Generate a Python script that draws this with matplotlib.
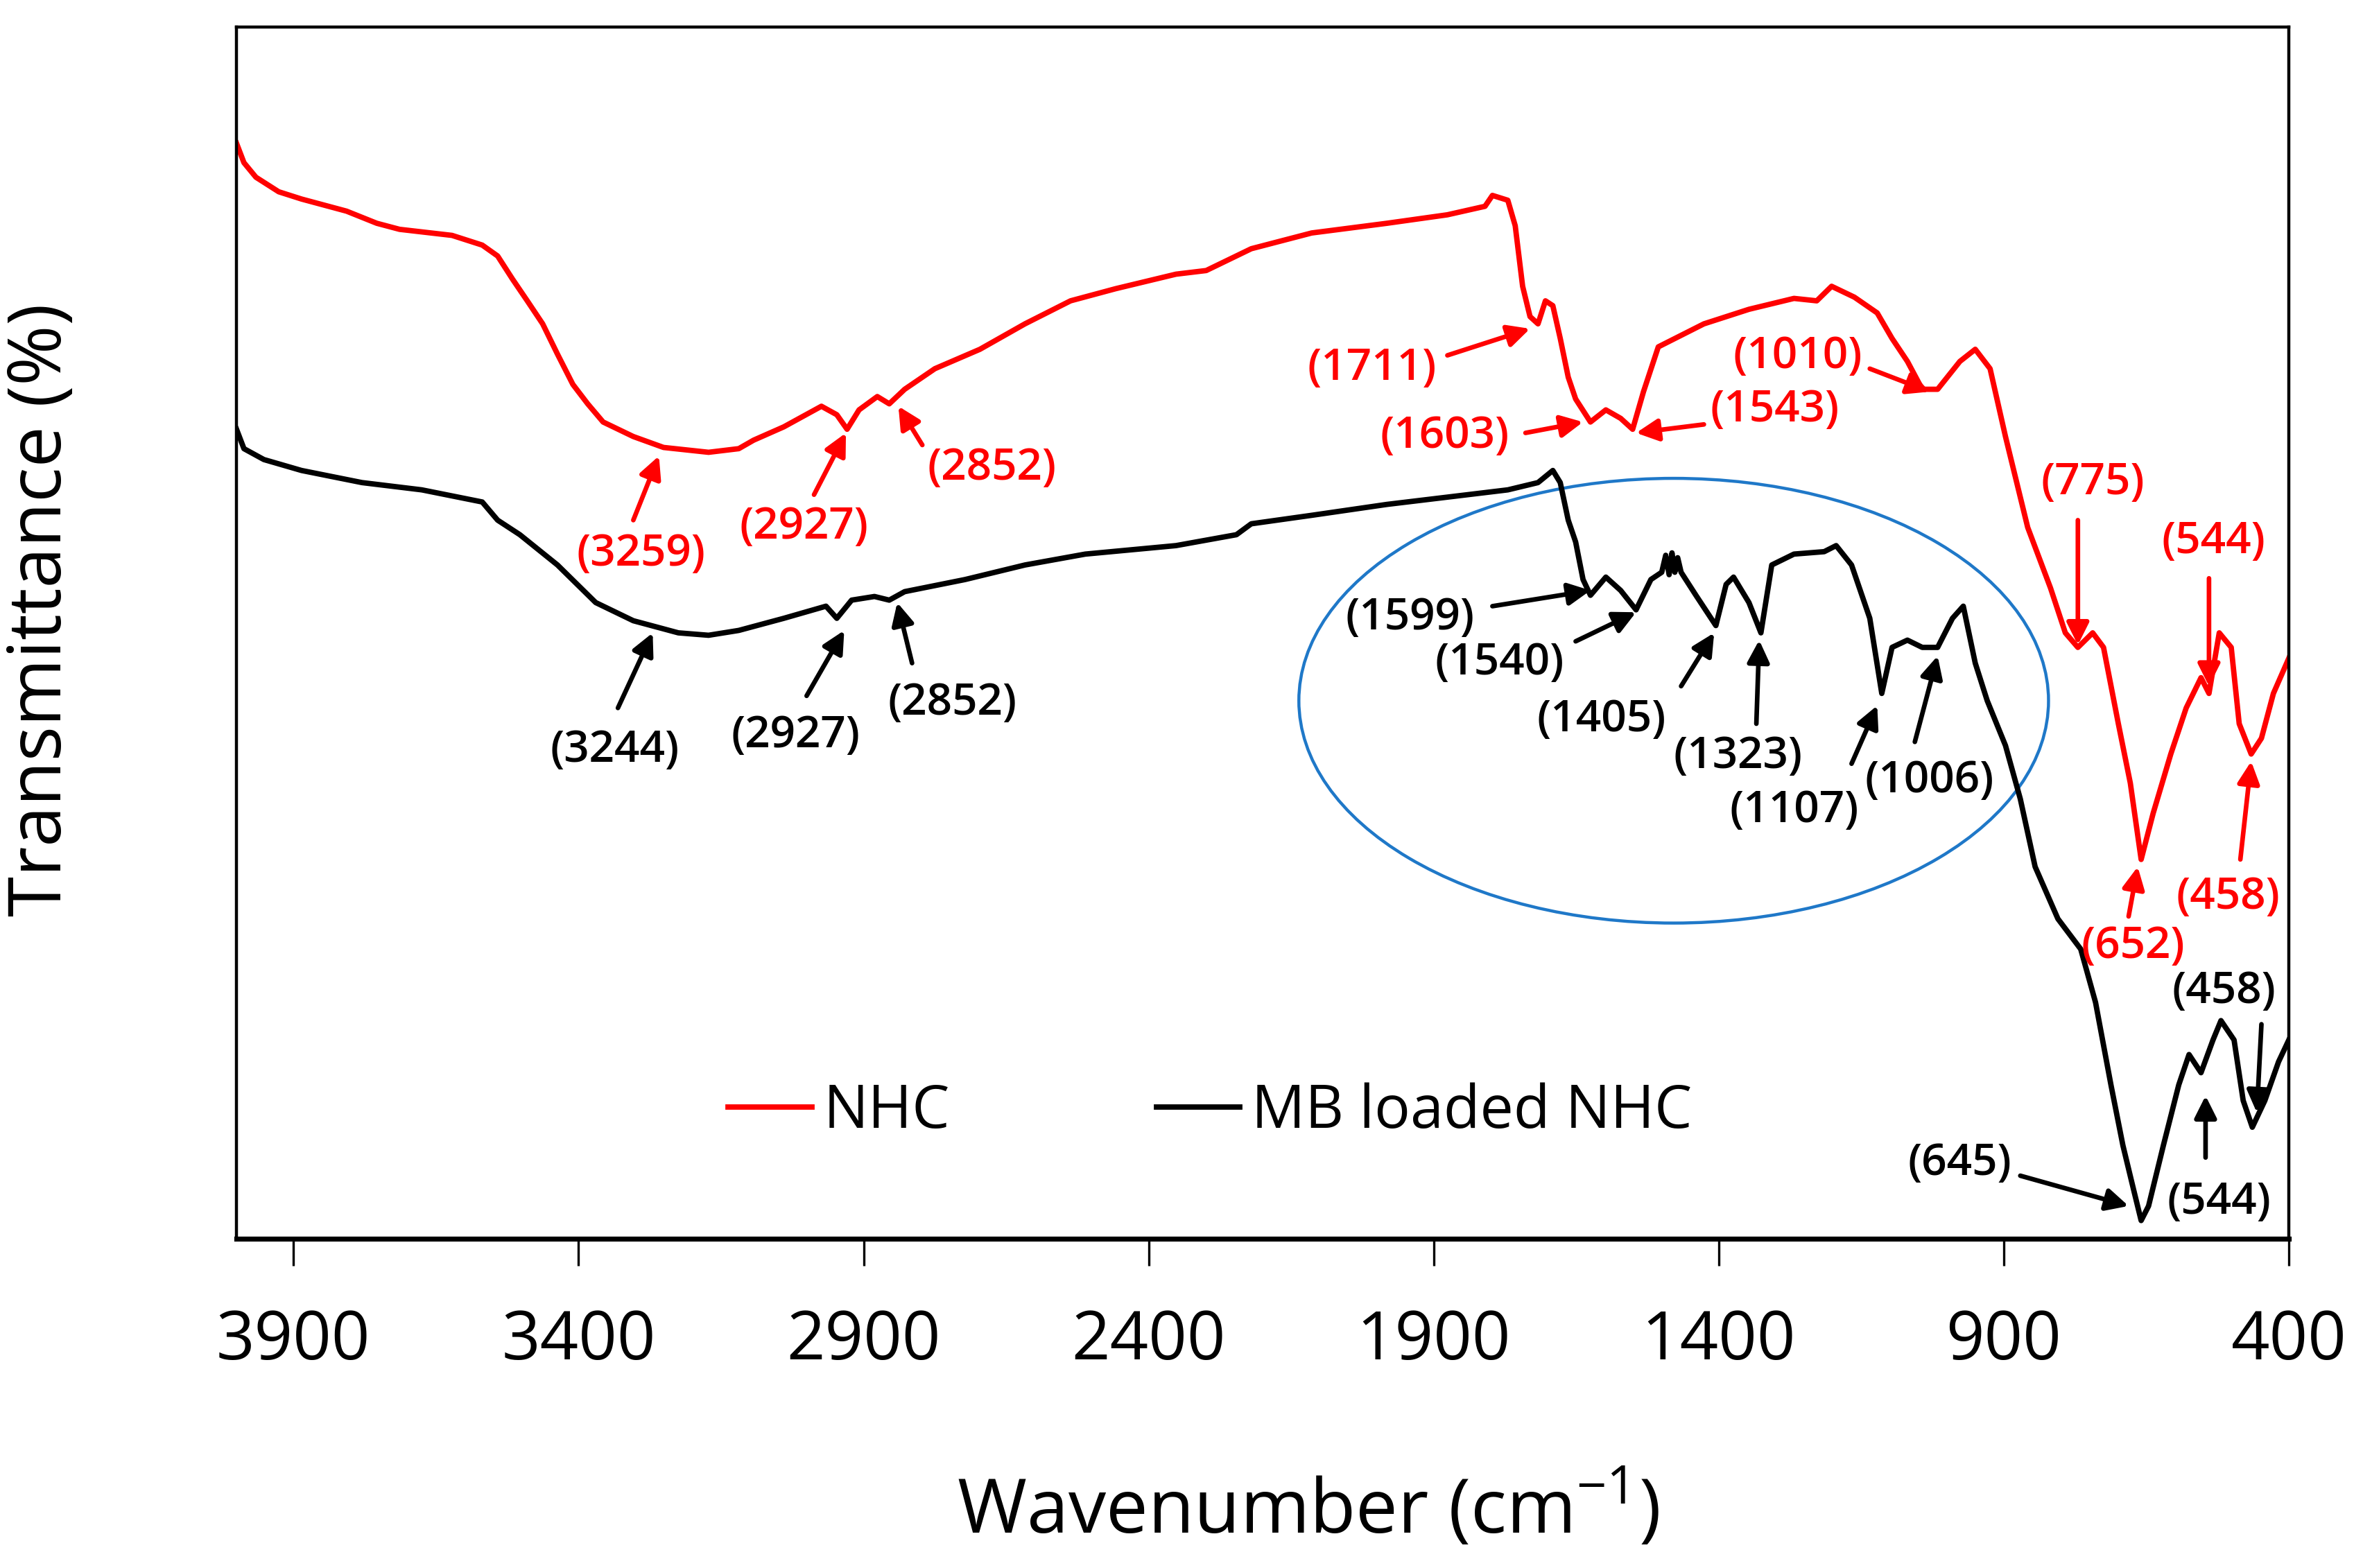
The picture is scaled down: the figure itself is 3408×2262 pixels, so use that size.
import numpy as np
import matplotlib
matplotlib.use("Agg")
import matplotlib.pyplot as plt
from matplotlib.patches import Ellipse

plt.rcParams['font.family'] = ['Open Sans', 'DejaVu Sans']
plt.rcParams['mathtext.fontset'] = 'custom'
plt.rcParams['mathtext.rm'] = 'Open Sans'

# FTIR spectra (wavenumber cm-1, transmittance a.u.)
nhc_wn = [4000, 3987, 3966, 3926, 3886, 3807, 3754, 3714, 3622, 3569, 3542, 3516, 3490, 3463,
          3437, 3410, 3384, 3357, 3304, 3251, 3172, 3119, 3093, 3040, 2974, 2947, 2929, 2908,
          2876, 2855, 2828, 2775, 2696, 2617, 2537, 2458, 2352, 2299, 2220, 2114, 1982, 1876,
          1810, 1797, 1770, 1757, 1744, 1731, 1717, 1704, 1691, 1678, 1664, 1651, 1625, 1598,
          1572, 1551, 1532, 1506, 1426, 1347, 1268, 1228, 1202, 1162, 1122, 1096, 1069, 1043,
          1016, 977, 950, 924, 897, 858, 818, 792, 770, 744, 725, 699, 678, 659, 638, 607, 580,
          554, 540, 522, 501, 487, 466, 448, 427, 400]
nhc_t = [90.4, 88.8, 87.6, 86.4, 85.8, 84.8, 83.8, 83.3, 82.8, 82.0, 81.1, 79.2, 77.4, 75.5,
         73.0, 70.5, 68.9, 67.4, 66.2, 65.3, 64.9, 65.2, 65.9, 67.0, 68.7, 68.0, 66.8, 68.4,
         69.5, 68.9, 70.1, 71.8, 73.4, 75.5, 77.4, 78.4, 79.6, 79.9, 81.7, 83.0, 83.8, 84.5,
         85.2, 86.1, 85.7, 83.6, 78.6, 76.1, 75.5, 77.4, 77.0, 74.3, 71.1, 69.3, 67.4, 68.4,
         67.7, 66.8, 69.9, 73.6, 75.5, 76.7, 77.6, 77.4, 78.6, 77.7, 76.4, 74.3, 72.4, 70.1,
         70.1, 72.4, 73.4, 71.8, 66.2, 58.7, 53.7, 50.0, 48.8, 50.0, 48.8, 42.5, 37.6, 31.3,
         35.1, 40.0, 43.8, 46.3, 45.0, 50.0, 48.8, 42.5, 40.0, 41.3, 45.0, 47.9]

mb_wn = [4000, 3987, 3952, 3886, 3780, 3675, 3569, 3542, 3503, 3437, 3370, 3304, 3225, 3172,
         3119, 3040, 2966, 2947, 2921, 2881, 2855, 2828, 2722, 2617, 2511, 2352, 2246, 2220,
         2114, 1982, 1876, 1770, 1717, 1691, 1678, 1664, 1651, 1638, 1625, 1598, 1572, 1545,
         1519, 1500, 1493, 1487, 1482, 1477, 1472, 1466, 1440, 1405, 1387, 1374, 1347, 1326,
         1307, 1268, 1215, 1194, 1167, 1135, 1114, 1096, 1069, 1043, 1016, 990, 971, 950, 929,
         897, 871, 845, 805, 765, 739, 712, 691, 672, 659, 646, 620, 593, 575, 554, 533, 519,
         496, 480, 464, 442, 418, 400]
mb_t = [66.8, 65.2, 64.3, 63.4, 62.4, 61.8, 60.8, 59.3, 58.1, 55.6, 52.5, 51.0, 50.0, 49.8,
        50.2, 51.2, 52.2, 51.2, 52.7, 53.0, 52.7, 53.4, 54.4, 55.6, 56.5, 57.2, 58.1, 59.0,
        59.7, 60.6, 61.2, 61.8, 62.4, 63.4, 62.4, 59.3, 57.5, 54.4, 53.1, 54.6, 53.5, 51.9,
        54.4, 55.0, 56.4, 54.8, 56.6, 55.0, 56.2, 55.0, 53.1, 50.6, 54.0, 54.6, 52.5, 50.0,
        55.6, 56.5, 56.7, 57.2, 55.6, 51.2, 45.0, 48.8, 49.4, 48.8, 48.8, 51.2, 52.2, 47.5,
        44.4, 40.7, 36.3, 30.7, 26.4, 23.9, 19.5, 12.7, 7.7, 4.0, 1.5, 2.7, 7.7, 12.7, 15.2,
        13.7, 16.4, 18.0, 16.4, 11.4, 9.2, 11.4, 14.6, 16.4]

# peak labels: text, arrow tip, arrow tail, label position
nhc_labels = ["(3259)", "(2927)", "(2852)", "(1711)", "(1603)", "(1543)", "(1010)",
              "(775)", "(544)", "(652)", "(458)"]
nhc_tips = [(3259, 64.6), (2931, 66.5), (2839, 68.7), (1731, 75.1), (1638, 67.4), (1545, 66.5),
            (1030, 69.9), (770, 49.0), (540, 45.6), (665, 30.7), (466, 39.4)]
nhc_tails = [(3304, 59.3), (2987, 61.4), (2797, 65.5), (1876, 72.9), (1739, 66.5), (1426, 67.2),
             (1135, 71.8), (770, 59.3), (540, 54.5), (681, 26.6), (485, 31.3)]
nhc_text = [(3291, 56.5), (3005, 58.7), (2675, 63.6), (2008, 71.8), (1881, 66.2), (1302, 68.4),
            (1262, 72.8), (744, 62.4), (532, 57.5), (673, 24.1), (506, 28.2)]

mb_labels = ["(3244)", "(2927)", "(2852)", "(1599)", "(1540)", "(1405)", "(1323)", "(1107)",
             "(1006)", "(645)", "(544)", "(458)"]
mb_tips = [(3270, 50.0), (2934, 50.2), (2841, 52.5), (1625, 53.5), (1545, 51.7), (1408, 50.0),
           (1329, 49.4), (1122, 44.0), (1016, 48.1), (681, 2.7), (546, 11.8), (456, 10.4)]
mb_tails = [(3331, 43.8), (3000, 44.8), (2815, 47.5), (1797, 52.2), (1651, 49.3), (1466, 45.6),
            (1334, 42.5), (1167, 39.2), (1056, 41.0), (871, 5.2), (546, 6.7), (448, 17.7)]
mb_text = [(3336, 40.3), (3019, 41.5), (2744, 44.2), (1942, 51.2), (1784, 47.5), (1606, 42.8),
           (1366, 39.8), (1268, 35.3), (1030, 37.8), (977, 6.2), (522, 3.0), (514, 20.4)]

xticks = [3900, 3400, 2900, 2400, 1900, 1400, 900, 400]

fig = plt.figure(figsize=(17.04, 11.31), dpi=200)
ax = fig.add_axes([0.1001, 0.2100, 0.8685, 0.7728])

ax.plot(nhc_wn, nhc_t, color='#FF0000', lw=2.8, label='NHC')
ax.plot(mb_wn, mb_t, color='black', lw=2.8, label='MB loaded NHC')


def label_peaks(labels, tips, tails, texts, color):
    for lab, tip, tail, pos in zip(labels, tips, tails, texts):
        ax.annotate("", xy=tip, xytext=tail,
                    arrowprops=dict(arrowstyle='-|>', color=color, lw=2.4,
                                    mutation_scale=24, shrinkA=0, shrinkB=0))
        ax.text(pos[0], pos[1], lab, color=color, fontsize=23, fontweight='semibold',
                ha='center', va='center')


label_peaks(nhc_labels, nhc_tips, nhc_tails, nhc_text, '#FF0000')
label_peaks(mb_labels, mb_tips, mb_tails, mb_text, 'black')

ax.add_patch(Ellipse((1479, 44.4), 1315, 36.7, fill=False, edgecolor='#1F78C8', lw=1.6))

ax.set_xlim(4000, 400)
ax.set_ylim(0, 100)
ax.set_xticks(xticks)
ax.set_yticks([])
ax.tick_params(axis='x', direction='out', length=14, width=1.2, pad=22, labelsize=35)
for s in ax.spines.values():
    s.set_linewidth(1.6)
ax.spines['bottom'].set_linewidth(2.6)

ax.set_xlabel('Wavenumber (cm$^{-1}$)', fontsize=39)
ax.xaxis.set_label_coords(0.522, -0.19)
ax.set_ylabel('Transmittance (%)', fontsize=38)
ax.yaxis.set_label_coords(-0.077, 0.519)

ax.legend(loc='center left', bbox_to_anchor=(0.225, 0.104), frameon=False, ncol=2,
          fontsize=31, handlelength=1.4, handletextpad=0.2, columnspacing=3.45, borderpad=0)

fig.savefig('out.png', dpi=200)
